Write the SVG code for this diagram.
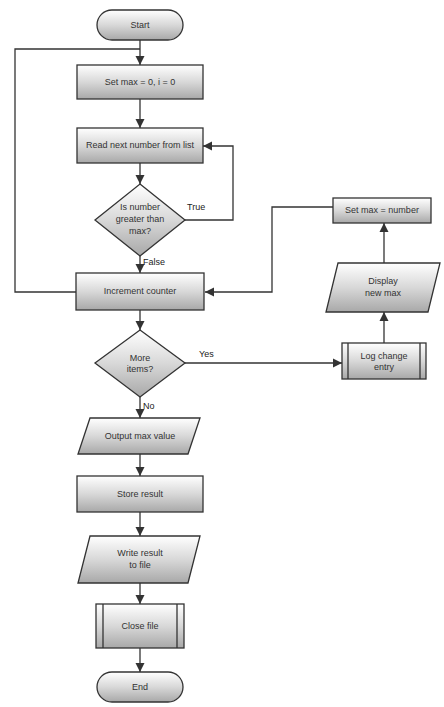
<svg xmlns="http://www.w3.org/2000/svg" width="444" height="707" viewBox="0 0 444 707">
<style>
.n{fill:url(#g);stroke:#333;stroke-width:1.3}
.t{font-family:"Liberation Sans",Arial,sans-serif;font-size:9px;fill:#333;text-anchor:middle}
.c{fill:none;stroke:#333;stroke-width:1.3}
.lb{font-family:"Liberation Sans",Arial,sans-serif;font-size:9px;fill:#222}
</style>
<defs>
<linearGradient id="g" x1="0" y1="0" x2="0" y2="1">
<stop offset="0" stop-color="#ffffff"/>
<stop offset="0.5" stop-color="#d8d8d8"/>
<stop offset="1" stop-color="#a8a8a8"/>
</linearGradient>
<marker id="a" viewBox="0 0 10 10" refX="10" refY="5" markerWidth="7" markerHeight="7" orient="auto">
<path d="M0,0 L10,5 L0,10 z" fill="#333"/>
</marker>
</defs>
<g id="connectors">
<path class="c" d="M140,40 V65" marker-end="url(#a)"/>
<path class="c" d="M76,292 H15 V49 H140"/>
<path class="c" d="M140,99 V128" marker-end="url(#a)"/>
<path class="c" d="M140,163 V184" marker-end="url(#a)"/>
<path class="c" d="M183,220 H233 V146 H203" marker-end="url(#a)"/>
<path class="c" d="M140,256 V273" marker-end="url(#a)"/>
<path class="c" d="M140,310 V330" marker-end="url(#a)"/>
<path class="c" d="M185,363 H342" marker-end="url(#a)"/>
<path class="c" d="M140,397 V418" marker-end="url(#a)"/>
<path class="c" d="M384,343 V312" marker-end="url(#a)"/>
<path class="c" d="M384,263 V223" marker-end="url(#a)"/>
<path class="c" d="M333,207 H272 V292 H205" marker-end="url(#a)"/>
<path class="c" d="M140,454 V476" marker-end="url(#a)"/>
<path class="c" d="M140,512 V536" marker-end="url(#a)"/>
<path class="c" d="M140,583 V604" marker-end="url(#a)"/>
<path class="c" d="M140,648 V672" marker-end="url(#a)"/>
<text class="lb" x="187" y="210">True</text>
<text class="lb" x="143" y="265">False</text>
<text class="lb" x="199" y="357">Yes</text>
<text class="lb" x="143" y="409">No</text>
</g>
<g id="start"><rect class="n" x="97" y="10" width="86" height="30" rx="15"/><text class="t" x="140" y="28">Start</text></g>
<g id="init"><rect class="n" x="77" y="65" width="126" height="34"/><text class="t" x="140" y="85">Set max = 0, i = 0</text></g>
<g id="read"><rect class="n" x="77" y="128" width="126" height="35"/><text class="t" x="140" y="148">Read next number from list</text></g>
<g id="check"><polygon class="n" points="140,184 185,220 140,256 95,220"/><text class="t" x="140" y="210">Is number</text><text class="t" x="140" y="222">greater than</text><text class="t" x="140" y="234">max?</text></g>
<g id="incr"><rect class="n" x="76" y="273" width="128" height="37"/><text class="t" x="140" y="294">Increment counter</text></g>
<g id="more"><polygon class="n" points="140,330 185,363 140,397 95,363"/><text class="t" x="140" y="361">More</text><text class="t" x="140" y="372">items?</text></g>
<g id="output"><polygon class="n" points="90,418 200,418 188,454 78,454"/><text class="t" x="140" y="439">Output max value</text></g>
<g id="store"><rect class="n" x="77" y="476" width="126" height="36"/><text class="t" x="140" y="497">Store result</text></g>
<g id="write"><polygon class="n" points="90,536 200,536 188,583 78,583"/><text class="t" x="140" y="556">Write result</text><text class="t" x="140" y="568">to file</text></g>
<g id="sub"><rect class="n" x="96" y="604" width="88" height="44"/><line class="c" x1="103" y1="604" x2="103" y2="648"/><line class="c" x1="177" y1="604" x2="177" y2="648"/><text class="t" x="140" y="629">Close file</text></g>
<g id="end"><rect class="n" x="97" y="672" width="86" height="30" rx="15"/><text class="t" x="140" y="690">End</text></g>
<g id="update"><rect class="n" x="333" y="198" width="98" height="25"/><text class="t" x="382" y="213">Set max = number</text></g>
<g id="display"><polygon class="n" points="338,263 440,263 428,312 326,312"/><text class="t" x="383" y="284">Display</text><text class="t" x="383" y="296">new max</text></g>
<g id="log"><rect class="n" x="342" y="343" width="84" height="36"/><line class="c" x1="348" y1="343" x2="348" y2="379"/><line class="c" x1="420" y1="343" x2="420" y2="379"/><text class="t" x="384" y="359">Log change</text><text class="t" x="384" y="370">entry</text></g>
</svg>
